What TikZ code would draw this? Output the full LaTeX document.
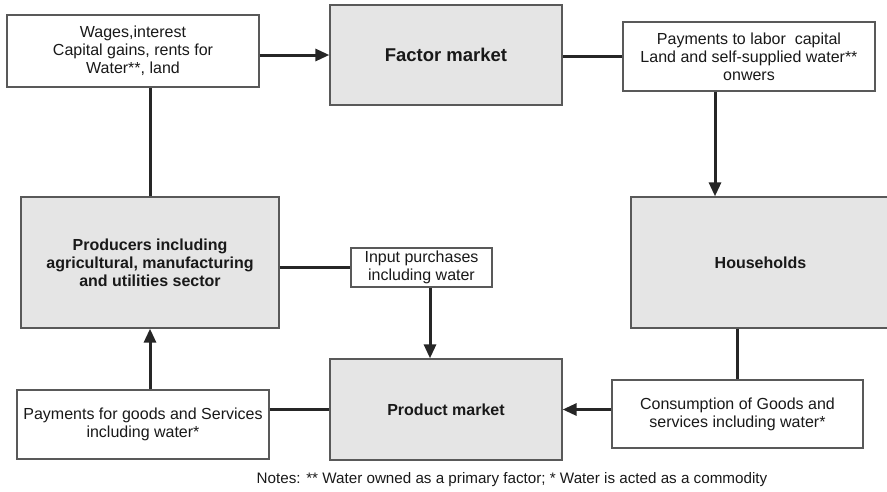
\documentclass[tikz,border=0pt]{standalone}
\usepackage{fontspec}
\setmainfont{Liberation Sans}
\usetikzlibrary{arrows.meta}
\begin{document}
\begin{tikzpicture}[x=1pt,y=-1pt,
flow/.style={line width=3pt,color=black!85},
arr/.style={flow,-{Triangle[length=14pt,width=12pt]}},
market/.style={draw=black!65,line width=1.3pt,fill=black!10,text=black!90,font=\bfseries\fontsize{16}{18}\selectfont,align=center,inner sep=0pt},
money/.style={draw=black!65,line width=1.3pt,fill=white,text=black!90,font=\fontsize{16}{18}\selectfont,align=center,inner sep=0pt}]
\useasboundingbox (0,0) rectangle (887,491);
\node[money,minimum width=252,minimum height=72] (wages) at (133,51) {Wages,interest\\Capital gains, rents for\\Water**, land};
\node[market,minimum width=232,minimum height=100,font=\bfseries\fontsize{18.5}{20}\selectfont] (factor) at (446,55) {Factor market};
\node[money,minimum width=252,minimum height=69] (paylab) at (749,56.5) {Payments to labor\ \ capital\\Land and self-supplied water**\\onwers};
\node[market,minimum width=259,minimum height=131] (house) at (760.5,262.5) {Households};
\node[market,minimum width=258,minimum height=131] (prods) at (150,262.5) {Producers including\\agricultural, manufacturing\\and utilities sector};
\node[money,minimum width=141,minimum height=39] (inp) at (421.5,267.5) {Input purchases\\including water};
\node[market,minimum width=232,minimum height=101] (prodm) at (446,409.5) {Product market};
\node[money,minimum width=252,minimum height=69] (pay) at (143,424.5) {Payments for goods and Services\\including water*};
\node[money,minimum width=251,minimum height=68] (cons) at (737.5,414) {Consumption of Goods and\\services including water*};
\node[text=black!90,font=\fontsize{15.2}{18}\selectfont] (notes) at (512,480) {Notes: ** Water owned as a primary factor; * Water is acted as a commodity};
\coordinate (hin) at (715,0); \coordinate (pin) at (430,0);
\draw[arr] (wages.east |- factor.west)--(factor.west);
\draw[flow] (paylab.west -| factor.east)--(paylab.west);
\draw[arr] (paylab.south -| hin)--(house.north -| hin);
\draw[flow] (house.south -| cons.north)--(cons.north);
\draw[arr] (prodm.east -| cons.west)--(prodm.east);
\draw[flow] (pay.east |- prodm.west)--(prodm.west);
\draw[arr] (pay.north -| prods.south)--(prods.south);
\draw[flow] (prods.north)--(prods.north |- wages.south);
\draw[flow] (prods.east |- inp.west)--(inp.west);
\draw[arr] (inp.south -| pin)--(prodm.north -| pin);
\end{tikzpicture}
\end{document}
